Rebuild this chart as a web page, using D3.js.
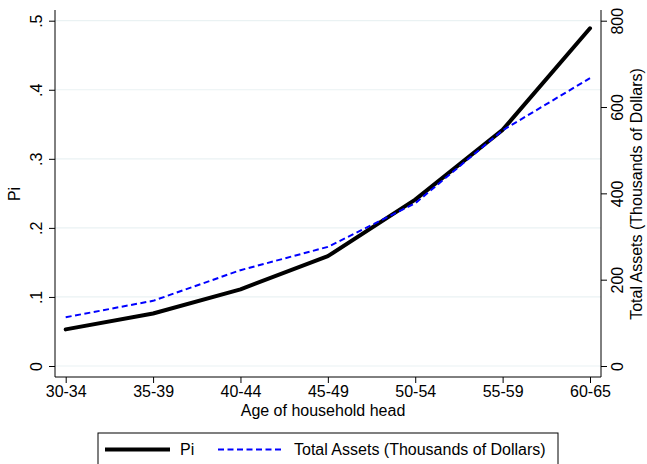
<!DOCTYPE html>
<html><head><meta charset="utf-8">
<script src="https://cdn.jsdelivr.net/npm/d3@7"></script>
<style>body{margin:0;background:#fff}svg{display:block;font-family:"Liberation Sans",Arial,sans-serif}</style>
</head><body><svg id="c" width="647" height="464"></svg>
<script>
const categories = ["30-34","35-39","40-44","45-49","50-54","55-59","60-65"];
const piValues = [0.053, 0.076, 0.111, 0.159, 0.241, 0.342, 0.489];
const assetValues = [113, 151, 222, 276, 377, 546, 667];
const leftTicks = [0, 0.1, 0.2, 0.3, 0.4, 0.5];
const leftTickLabels = ["0", ".1", ".2", ".3", ".4", ".5"];
const rightTicks = [0, 200, 400, 600, 800];
const seriesNames = ["Pi", "Total Assets (Thousands of Dollars)"];

const svg = d3.select("#c");
const L = 55, R = 601, T = 10, B = 377;
const x = d3.scalePoint().domain(categories).range([65.7, 590]);
const yL = d3.scaleLinear().domain([0, 0.5]).range([366, 20.7]);
const yR = d3.scaleLinear().domain([0, 800]).range([366, 20.7]);
const fs = 16;

// gridlines
svg.append("g").selectAll("line").data(leftTicks).join("line")
  .attr("x1", L).attr("x2", R).attr("y1", d => yL(d)).attr("y2", d => yL(d))
  .attr("stroke", "#eaf2f3").attr("stroke-width", 1.2);

// left axis
const gL = svg.append("g").attr("transform", `translate(${L},0)`)
  .call(d3.axisLeft(yL).tickValues(leftTicks).tickFormat((d, i) => leftTickLabels[i]).tickSize(6).tickSizeOuter(0));
gL.select(".domain").remove();
gL.append("line").attr("x1", 0).attr("x2", 0).attr("y1", T).attr("y2", B).attr("stroke", "#000");
gL.selectAll(".tick text").attr("transform", "rotate(-90)").attr("x", 0).attr("y", -13)
  .attr("dy", 0).attr("text-anchor", "middle").attr("font-size", fs).attr("fill", "#000").attr("font-family", null);

// right axis
const gR = svg.append("g").attr("transform", `translate(${R},0)`)
  .call(d3.axisRight(yR).tickValues(rightTicks).tickSize(6).tickSizeOuter(0));
gR.select(".domain").remove();
gR.append("line").attr("x1", 0).attr("x2", 0).attr("y1", T).attr("y2", B).attr("stroke", "#000");
gR.selectAll(".tick text").attr("transform", "rotate(-90)").attr("x", 0).attr("y", 22)
  .attr("dy", 0).attr("text-anchor", "middle").attr("font-size", fs).attr("fill", "#000").attr("font-family", null);

// bottom axis
const gB = svg.append("g").attr("transform", `translate(0,${B})`)
  .call(d3.axisBottom(x).tickSize(6).tickSizeOuter(0));
gB.select(".domain").remove();
gB.append("line").attr("x1", L).attr("x2", R).attr("y1", 0).attr("y2", 0).attr("stroke", "#000");
gB.selectAll(".tick text").attr("y", 9).attr("dy", "0.71em").attr("font-size", fs).attr("fill", "#000").attr("font-family", null);
svg.selectAll(".tick line").attr("stroke", "#000");

// titles
svg.append("text").attr("transform", "translate(20,194) rotate(-90)").attr("text-anchor", "middle")
  .attr("font-size", fs).text("Pi");
svg.append("text").attr("transform", "translate(642,194) rotate(-90)").attr("text-anchor", "middle")
  .attr("font-size", fs).text(seriesNames[1]);
svg.append("text").attr("x", 323).attr("y", 416).attr("text-anchor", "middle")
  .attr("font-size", fs).text("Age of household head");

// lines
const lineL = d3.line().x((d, i) => x(categories[i])).y(d => yL(d));
const lineR = d3.line().x((d, i) => x(categories[i])).y(d => yR(d));
svg.append("path").datum(piValues).attr("d", lineL).attr("fill", "none")
  .attr("stroke", "#000").attr("stroke-width", 4).attr("stroke-linejoin", "round").attr("stroke-linecap", "round");
svg.append("path").datum(assetValues).attr("d", lineR).attr("fill", "none")
  .attr("stroke", "#0000ff").attr("stroke-width", 2).attr("stroke-dasharray", "6,3.5");

// legend
const lg = svg.append("g");
lg.append("rect").attr("x", 98).attr("y", 433).attr("width", 460).attr("height", 40)
  .attr("fill", "#fff").attr("stroke", "#000").attr("stroke-width", 1);
lg.append("line").attr("x1", 105).attr("x2", 170).attr("y1", 449.5).attr("y2", 449.5)
  .attr("stroke", "#000").attr("stroke-width", 4);
lg.append("text").attr("x", 180).attr("y", 455).attr("font-size", fs).text(seriesNames[0]);
lg.append("line").attr("x1", 218).attr("x2", 283).attr("y1", 449.5).attr("y2", 449.5)
  .attr("stroke", "#0000ff").attr("stroke-width", 2).attr("stroke-dasharray", "6,3.5");
lg.append("text").attr("x", 294).attr("y", 455).attr("font-size", fs).text(seriesNames[1]);
</script></body></html>
